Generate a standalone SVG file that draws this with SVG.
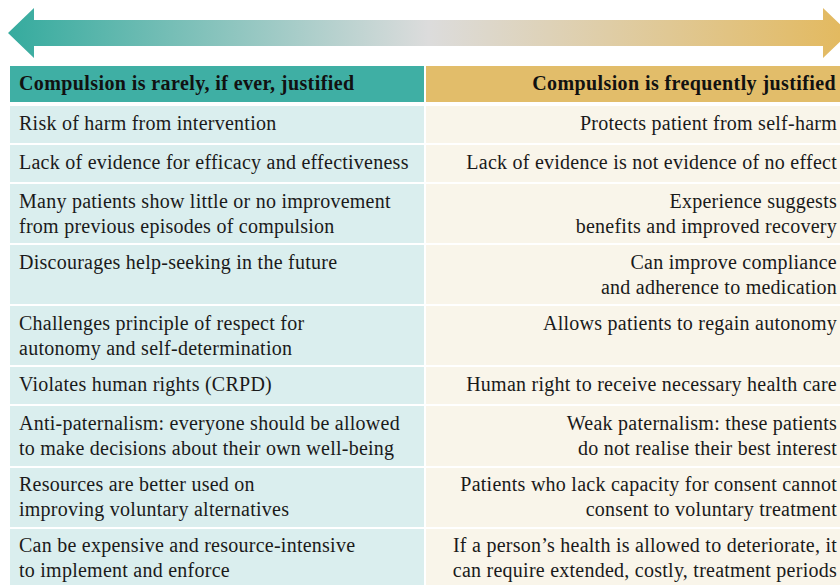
<svg xmlns="http://www.w3.org/2000/svg" width="840" height="585" viewBox="0 0 840 585">
<defs>
<linearGradient id="ag" x1="8" y1="0" x2="849" y2="0" gradientUnits="userSpaceOnUse">
<stop offset="0" stop-color="#35ab9e"/>
<stop offset="0.5" stop-color="#dcdcdc"/>
<stop offset="1" stop-color="#e3b95e"/>
</linearGradient>
<style>
.t{font-family:"Liberation Serif","Times New Roman",serif;font-size:20px;letter-spacing:0.25px;fill:#1a1a1a}
.h{font-family:"Liberation Serif","Times New Roman",serif;font-size:20px;letter-spacing:0.4px;font-weight:bold;fill:#111}
.r{text-anchor:end}
.L{fill:#daeeee}
.R{fill:#f9f5ea}
</style>
</defs>
<rect width="840" height="585" fill="#fff"/>
<g id="arrow">
<polygon points="8,33 34,8 34,20 823,20 823,8 849,33 823,58 823,46 34,46 34,58" fill="url(#ag)"/>
</g>
<g id="header">
<rect x="10" y="66" width="414" height="36" fill="#3fafa4"/>
<rect x="426" y="66" width="414" height="36" fill="#e2bd6a"/>
<text class="h" x="19" y="90">Compulsion is rarely, if ever, justified</text>
<text class="h r" x="836" y="90">Compulsion is frequently justified</text>
</g>
<g id="row1">
<rect class="L" x="10" y="106" width="414" height="37"/><rect class="R" x="426" y="106" width="414" height="37"/>
<text class="t" x="19" y="130">Risk of harm from intervention</text>
<text class="t r" x="837" y="130">Protects patient from self-harm</text>
</g>
<g id="row2">
<rect class="L" x="10" y="145" width="414" height="37"/><rect class="R" x="426" y="145" width="414" height="37"/>
<text class="t" x="19" y="169">Lack of evidence for efficacy and effectiveness</text>
<text class="t r" x="837" y="169">Lack of evidence is not evidence of no effect</text>
</g>
<g id="row3">
<rect class="L" x="10" y="184" width="414" height="59"/><rect class="R" x="426" y="184" width="414" height="59"/>
<text class="t" x="19" y="208">Many patients show little or no improvement</text>
<text class="t" x="19" y="233">from previous episodes of compulsion</text>
<text class="t r" x="837" y="208">Experience suggests</text>
<text class="t r" x="837" y="233">benefits and improved recovery</text>
</g>
<g id="row4">
<rect class="L" x="10" y="245" width="414" height="59"/><rect class="R" x="426" y="245" width="414" height="59"/>
<text class="t" x="19" y="269">Discourages help-seeking in the future</text>
<text class="t r" x="837" y="269">Can improve compliance</text>
<text class="t r" x="837" y="294">and adherence to medication</text>
</g>
<g id="row5">
<rect class="L" x="10" y="306" width="414" height="59"/><rect class="R" x="426" y="306" width="414" height="59"/>
<text class="t" x="19" y="330">Challenges principle of respect for</text>
<text class="t" x="19" y="355">autonomy and self-determination</text>
<text class="t r" x="837" y="330">Allows patients to regain autonomy</text>
</g>
<g id="row6">
<rect class="L" x="10" y="367" width="414" height="37"/><rect class="R" x="426" y="367" width="414" height="37"/>
<text class="t" x="19" y="391">Violates human rights (CRPD)</text>
<text class="t r" x="837" y="391">Human right to receive necessary health care</text>
</g>
<g id="row7">
<rect class="L" x="10" y="406" width="414" height="60"/><rect class="R" x="426" y="406" width="414" height="60"/>
<text class="t" x="19" y="430">Anti-paternalism: everyone should be allowed</text>
<text class="t" x="19" y="455">to make decisions about their own well-being</text>
<text class="t r" x="837" y="430">Weak paternalism: these patients</text>
<text class="t r" x="837" y="455">do not realise their best interest</text>
</g>
<g id="row8">
<rect class="L" x="10" y="468" width="414" height="59"/><rect class="R" x="426" y="468" width="414" height="59"/>
<text class="t" x="19" y="491">Resources are better used on</text>
<text class="t" x="19" y="516">improving voluntary alternatives</text>
<text class="t r" x="837" y="491">Patients who lack capacity for consent cannot</text>
<text class="t r" x="837" y="516">consent to voluntary treatment</text>
</g>
<g id="row9">
<rect class="L" x="10" y="529" width="414" height="56"/><rect class="R" x="426" y="529" width="414" height="56"/>
<text class="t" x="19" y="552">Can be expensive and resource-intensive</text>
<text class="t" x="19" y="577">to implement and enforce</text>
<text class="t r" x="837" y="552">If a person’s health is allowed to deteriorate, it</text>
<text class="t r" x="837" y="577">can require extended, costly, treatment periods</text>
</g>
</svg>
